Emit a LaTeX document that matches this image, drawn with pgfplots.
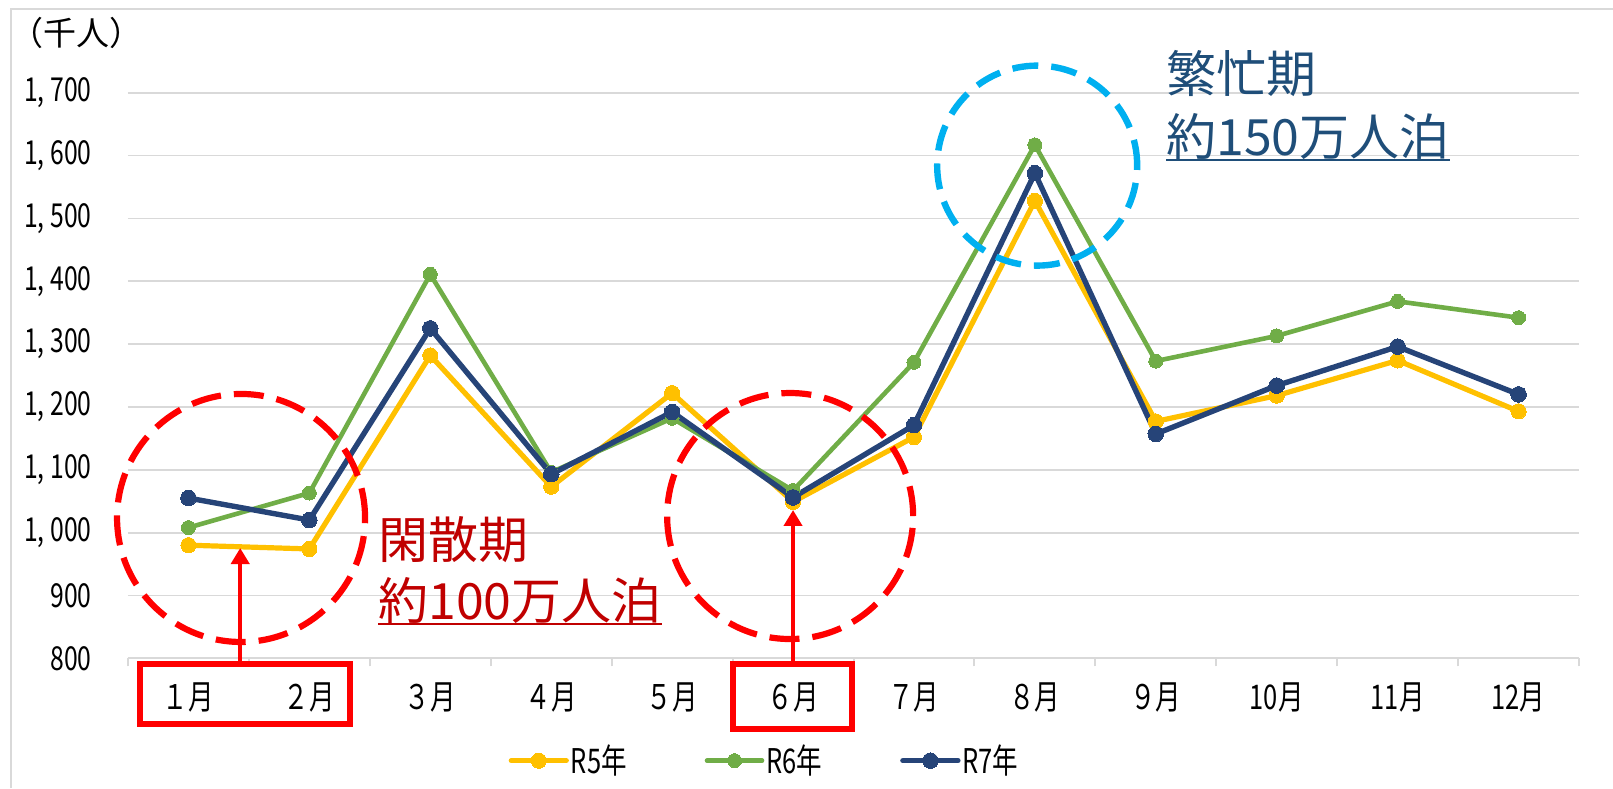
\documentclass[border=0pt]{standalone}
\usepackage{fontspec}
\setmainfont{Noto Sans CJK JP}
\newfontfamily\nf[FakeStretch=0.75]{Noto Sans CJK JP}
\usepackage{pgfplots}
\pgfplotsset{compat=1.18}
\usetikzlibrary{arrows.meta}
\definecolor{cY}{HTML}{FFC000}
\definecolor{cG}{HTML}{70AD47}
\definecolor{cN}{HTML}{264478}
\definecolor{cGrid}{HTML}{D9D9D9}
\definecolor{cRed}{HTML}{FF0000}
\definecolor{cRedT}{HTML}{C00000}
\definecolor{cSky}{HTML}{00B0F0}
\definecolor{cBlueT}{HTML}{1F4E79}
\begin{document}
\begin{tikzpicture}
\useasboundingbox (0,0) rectangle (806.5pt,394pt);
\draw[cGrid, line width=1pt] (5.5pt,0) -- (5.5pt,389.5pt) -- (806.5pt,389.5pt);
\begin{axis}[
  at={(64pt,64.85pt)}, anchor=south west,
  scale only axis, width=725.5pt, height=282.8pt,
  xmin=-0.5, xmax=11.5, ymin=800, ymax=1700,
  clip=false,
  axis x line*=bottom, axis y line*=left,
  x axis line style={draw=cGrid, line width=1pt},
  y axis line style={draw=none},
  ymajorgrids, grid style={cGrid, line width=0.9pt},
  xtick={0,...,11},
  xticklabels={１月,２月,３月,４月,５月,６月,７月,８月,９月,10月,11月,12月},
  minor xtick={-0.5,0.5,...,11.5},
  major tick length=0pt, minor tick length=4pt, tick align=outside,
  tick style={draw=cGrid, line width=1pt},
  minor tick style={draw=cGrid, line width=1pt},
  ytick={800,900,1000,1100,1200,1300,1400,1500,1600,1700},
  yticklabels={800,900,{1, 000},{1, 100},{1, 200},{1, 300},{1, 400},{1, 500},{1, 600},{1, 700}},
  yticklabel style={font=\nf\fontsize{16.5}{16.5}\selectfont, anchor=east, inner sep=0pt, xshift=-18pt},
  xticklabel style={font=\nf\fontsize{17}{17}\selectfont, anchor=center, inner sep=0pt, yshift=-19.4pt},
  legend columns=3,
  legend style={at={(0.4387,-0.181)}, anchor=center, draw=none, fill=none,
    font=\nf\fontsize{17}{17}\selectfont,
    /tikz/every even column/.append style={column sep=38pt},
    nodes={inner sep=1pt}},
  legend image code/.code={\draw[#1, mark repeat=2, mark phase=2] plot coordinates {(0pt,0pt) (13.75pt,0pt) (27.5pt,0pt)};},
]
\addplot[cY, line width=2.6pt, line cap=round, line join=round, mark=*, mark size=3.8pt, mark options={solid, fill=cY, draw=cY, line width=0pt}]
 coordinates {(0,980) (1,974) (2,1282) (3,1073) (4,1222) (5,1049) (6,1152) (7,1528) (8,1177) (9,1218) (10,1274) (11,1193)};
\addlegendentry{R5年}
\addplot[cG, line width=2.3pt, line cap=round, line join=round, mark=*, mark size=3.5pt, mark options={solid, fill=cG, draw=cG, line width=0pt}]
 coordinates {(0,1008) (1,1063) (2,1411) (3,1096) (4,1182) (5,1067) (6,1271) (7,1617) (8,1273) (9,1313) (10,1368) (11,1342)};
\addlegendentry{R6年}
\addplot[cN, line width=2.7pt, line cap=round, line join=round, mark=*, mark size=3.9pt, mark options={solid, fill=cN, draw=cN, line width=0pt}]
 coordinates {(0,1055) (1,1020) (2,1325) (3,1093) (4,1192) (5,1056) (6,1171) (7,1572) (8,1157) (9,1234) (10,1296) (11,1220)};
\addlegendentry{R7年}
% annotations
\draw[cRed, line width=3.1pt, dash pattern=on 15pt off 6.5pt] (axis cs:0.435,1023.3) circle[radius=62pt];
\draw[cRed, line width=3.1pt, dash pattern=on 15pt off 6.5pt] (axis cs:4.976,1026.4) circle[radius=61.5pt];
\draw[cSky, line width=3.2pt, dash pattern=on 13pt off 6.5pt] (axis cs:7.019,1584) circle[radius=50pt];
\draw[cRed, line width=3.2pt] (axis cs:-0.4007,790.9) rectangle (axis cs:1.3362,695.5);
\draw[cRed, line width=3.2pt] (axis cs:4.504,790.9) rectangle (axis cs:5.488,687.5);
\draw[cRed, line width=2.2pt, -{Triangle[width=9pt,length=8pt]}] (axis cs:0.428,790.9) -- (axis cs:0.428,975.5);
\draw[cRed, line width=2.2pt, -{Triangle[width=9pt,length=8pt]}] (axis cs:5.0,790.9) -- (axis cs:5.0,1036);
\end{axis}
\node[anchor=west, inner sep=0pt, font=\fontsize{16.5}{16.5}\selectfont] at (5pt,377.5pt) {（千人）};
\node[anchor=base west, inner sep=0pt, text=cBlueT, font=\fontsize{25}{25}\selectfont] at (583pt,347.5pt) {繁忙期};
\node[anchor=base west, inner sep=0pt, text=cBlueT, font=\fontsize{25}{25}\selectfont] (b2) at (583pt,316pt) {約150万人泊};
\draw[cBlueT, line width=1.4pt] ([yshift=-2pt]b2.base west) -- ([yshift=-2pt]b2.base east);
\node[anchor=base west, inner sep=0pt, text=cRedT, font=\fontsize{25}{25}\selectfont] at (189pt,114.75pt) {閑散期};
\node[anchor=base west, inner sep=0pt, text=cRedT, font=\fontsize{25}{25}\selectfont] (r2) at (189pt,84pt) {約100万人泊};
\draw[cRedT, line width=1.4pt] ([yshift=-2pt]r2.base west) -- ([yshift=-2pt]r2.base east);
\end{tikzpicture}
\end{document}
